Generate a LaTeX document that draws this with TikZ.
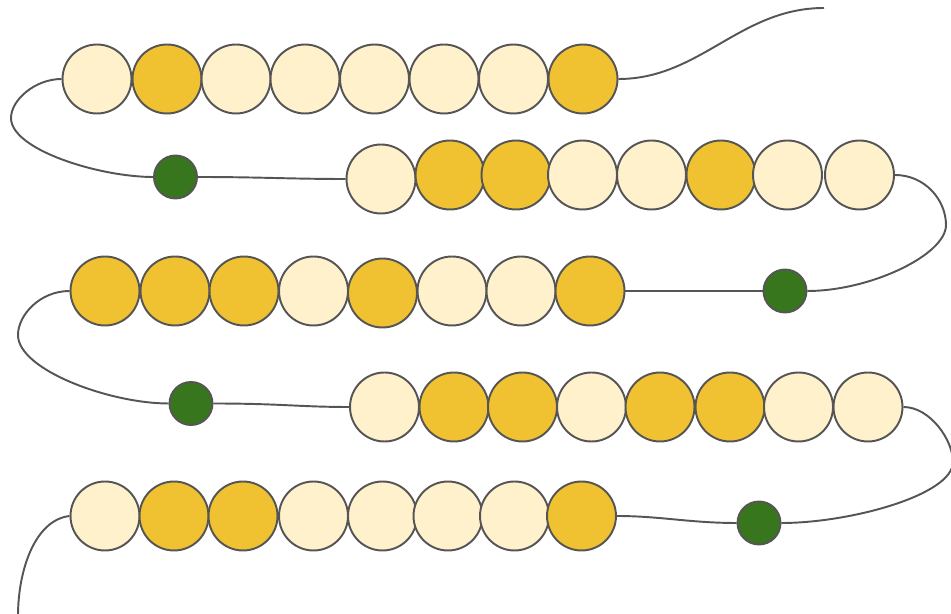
\documentclass[tikz,border=0pt]{standalone}
\usetikzlibrary{positioning}
\definecolor{beadlight}{HTML}{FFF1CC}
\definecolor{beaddark}{HTML}{F0C232}
\definecolor{knotgreen}{HTML}{38761D}
\definecolor{stringgray}{HTML}{555555}

\begin{document}
\begin{tikzpicture}[x=0.02cm, y=-0.02cm,
    bead/.style={circle, draw=stringgray, line width=1.1pt, minimum size=1.38cm, inner sep=0pt},
    knot/.style={circle, draw=stringgray, line width=1.1pt, fill=knotgreen, minimum size=0.86cm, inner sep=0pt},
    thread/.style={draw=stringgray, line width=1.1pt}]
    \useasboundingbox (0,0) rectangle (951,614);

    \foreach \x/\y/\c [count=\i] in {97/79/beadlight, 167/79/beaddark, 236/79/beadlight, 305/79/beadlight, 374.5/79/beadlight, 444/79/beadlight, 513.5/79/beadlight, 583/79/beaddark}
        \node (r1b\i) [bead, fill=\c] at (\x,\y) {};
    \foreach \x/\y/\c [count=\i] in {381/179/beadlight, 450/175/beaddark, 516/175/beaddark, 582.5/175/beadlight, 651.5/175/beadlight, 721/175/beaddark, 787.5/175/beadlight, 859.5/175/beadlight}
        \node (r2b\i) [bead, fill=\c] at (\x,\y) {};
    \foreach \x/\y/\c [count=\i] in {105/291/beaddark, 175/291/beaddark, 244/291/beaddark, 313.5/291/beadlight, 382.5/293/beaddark, 452/291/beadlight, 521/291/beadlight, 590/291/beaddark}
        \node (r3b\i) [bead, fill=\c] at (\x,\y) {};
    \foreach \x/\y/\c [count=\i] in {384.5/407/beadlight, 454/407/beaddark, 522.5/407/beaddark, 591.5/407/beadlight, 660/407/beaddark, 730/407/beaddark, 798.5/407/beadlight, 868/407/beadlight}
        \node (r4b\i) [bead, fill=\c] at (\x,\y) {};
    \foreach \x/\y/\c [count=\i] in {105/516/beadlight, 174/516/beaddark, 243/516/beaddark, 313.5/516/beadlight, 382.5/516/beadlight, 448/516/beadlight, 514.5/516/beadlight, 581.5/516/beaddark}
        \node (r5b\i) [bead, fill=\c] at (\x,\y) {};

    \node (g1) [knot] at (175.5,177) {};
    \node (g2) [knot] at (785,291) {};
    \node (g3) [knot] at (191,403.5) {};
    \node (g4) [knot] at (759,523) {};

    \coordinate (top) at (824,8);
    \coordinate (bottom) at (18,616);

    \draw [thread] (r1b8.east) .. controls (700,79) and (740,8) .. (top);
    \draw [thread] (r1b1.west) .. controls (35,79) and (11,100) .. (11,118) .. controls (11,150) and (100,177) .. (g1.west);
    \draw [thread] (g1.east) .. controls (260,177) and (290,179) .. (r2b1.west);
    \draw [thread] (r2b8.east) .. controls (925,175) and (946,200) .. (946,225) .. controls (946,255) and (870,291) .. (g2.east);
    \draw [thread] (g2.west) -- (r3b8.east);
    \draw [thread] (r3b1.west) .. controls (40,291) and (18,315) .. (18,335) .. controls (18,370) and (110,403.5) .. (g3.west);
    \draw [thread] (g3.east) .. controls (280,403.5) and (300,407) .. (r4b1.west);
    \draw [thread] (r4b8.east) .. controls (930,407) and (953,440) .. (953,462) .. controls (953,495) and (850,523) .. (g4.east);
    \draw [thread] (g4.west) .. controls (690,523) and (660,516) .. (r5b8.east);
    \draw [thread] (r5b1.west) .. controls (35,520) and (18,570) .. (bottom);
\end{tikzpicture}
\end{document}
